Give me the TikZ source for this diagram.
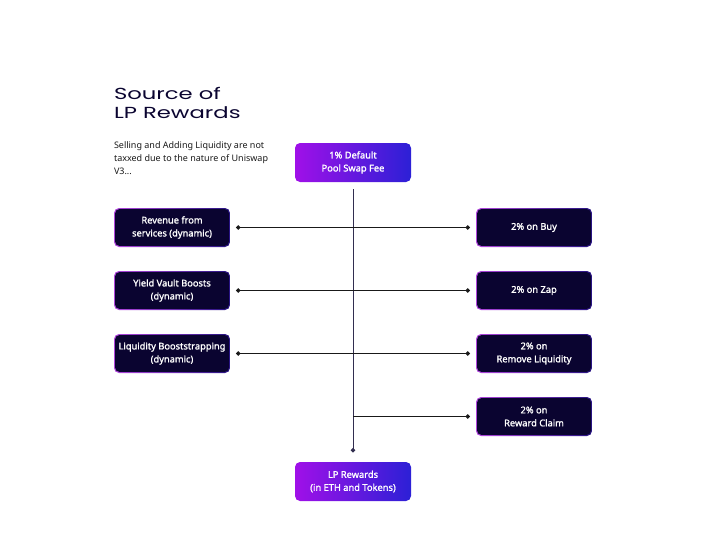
\documentclass[tikz,border=0pt]{standalone}
\usepackage{fontspec}
\setmainfont{Noto Sans}
\newfontfamily\boxfont[FakeBold=1.4]{Noto Sans}
\newfontfamily\titlefont[FakeStretch=1.42]{Poppins}
\usetikzlibrary{arrows.meta,positioning,calc}
\definecolor{sourcenavy}{RGB}{10,4,48}
\definecolor{edgepink}{RGB}{176,70,220}
\definecolor{edgeblue}{RGB}{40,20,130}
\definecolor{feepurple}{RGB}{160,16,232}
\definecolor{feeblue}{RGB}{44,32,214}
\definecolor{trunkgrey}{RGB}{50,46,80}

\begin{document}
\begin{tikzpicture}[
    x=1pt, y=-1pt,
    node distance=24pt,
    every node/.style={font=\boxfont\fontsize{9.3}{13}\selectfont, text=white, align=center, inner sep=0pt, outer sep=0pt},
    source/.style={rectangle, rounded corners=5pt, minimum width=116pt, minimum height=39pt, left color=edgepink, right color=edgeblue,
        path picture={\fill[sourcenavy, rounded corners=4pt] ($(path picture bounding box.south west)+(1.2pt,1.2pt)$) rectangle ($(path picture bounding box.north east)+(-1.2pt,-1.2pt)$);}},
    pool/.style={rectangle, rounded corners=5pt, minimum width=116pt, minimum height=39pt, left color=feepurple, right color=feeblue},
    link/.style={{Circle[length=4.4pt]}-{Circle[length=4.4pt]}, line width=0.9pt, color=black!90, shorten <=6pt, shorten >=6pt},
    trunk/.style={-{Circle[length=4.4pt]}, line width=0.9pt, color=trunkgrey, shorten <=7pt, shorten >=9.5pt},
    branch/.style={-{Circle[length=4.4pt]}, line width=0.9pt, color=black!90, shorten >=6pt}
]
\useasboundingbox (0,0) rectangle (708,533);

% Heading
\node[anchor=north west, align=left, text=sourcenavy, font=\titlefont\fontsize{16}{19}\selectfont] (title) at (114,87) {Source of\\LP Rewards};
\node[anchor=north west, align=left, text=black!90, font=\rmfamily\fontsize{9}{13}\selectfont] (note) at (114,142) {Selling and Adding Liquidity are not\\taxxed due to the nature of Uniswap\\V3...};

% Left column
\node[source] (revenue) at (172,227.5) {Revenue from\\services (dynamic)};
\node[source, below=of revenue] (vault) {Yield Vault Boosts\\(dynamic)};
\node[source, below=of vault] (bootstrap) {Liquidity Booststrapping\\(dynamic)};

% Right column
\node[source, right=246pt of revenue] (buy) {2\% on Buy};
\node[source, below=of buy] (zap) {2\% on Zap};
\node[source, below=of zap] (remove) {2\% on\\Remove Liquidity};
\node[source, below=of remove] (claim) {2\% on\\Reward Claim};

% Centre
\node[pool] (fee) at (353,162.5) {1\% Default\\Pool Swap Fee};
\node[pool] (rewards) at (353,481.5) {LP Rewards\\(in ETH and Tokens)};

% Connections
\draw[trunk] (fee) -- (rewards);
\draw[link] (revenue) -- (buy);
\draw[link] (vault) -- (zap);
\draw[link] (bootstrap) -- (remove);
\draw[branch] (claim -| fee) -- (claim);

\end{tikzpicture}
\end{document}
